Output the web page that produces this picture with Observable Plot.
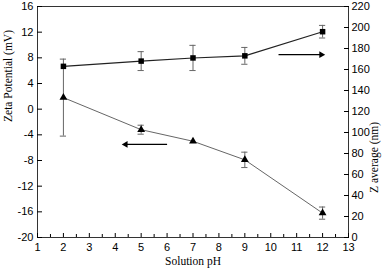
<!DOCTYPE html>
<html><head><meta charset="utf-8">
<script src="https://cdn.jsdelivr.net/npm/d3@7"></script>
<script src="https://cdn.jsdelivr.net/npm/@observablehq/plot@0.6"></script>
<style>body{margin:0;background:#fff} svg{display:block}</style>
</head><body><div id="chart"></div>
<script>
// Data
const pH = [2, 5, 7, 9, 12];
const zAverage = [163, 168, 171, 173, 196];      // nm (right axis)
const zAverageErr = [0, 9, 12, 8, 6];
const zeta = [1.8, -3.2, -5.0, -7.9, -16.2];     // mV (left axis)
const zetaErr = [6, 0.7, 0, 1.2, 0.95];
const xTicks = d3.range(1, 14);
const xMinorTicks = d3.range(1.5, 13, 1);
const zetaTicks = d3.range(-20, 17, 4);
const nmTicks = d3.range(0, 221, 20);
// annotation arrows (pH start, pH end, zeta level)
const arrowStart = [10.3, 6.0];
const arrowEnd = [11.95, 4.4];
const arrowLevel = [8.5, -5.5];

// right axis (0..220 nm) mapped onto the left scale (-20..16 mV)
const nmToZ = nm => nm * 36 / 220 - 20;

const sq = pH.map((x, i) => ({x, y: nmToZ(zAverage[i]), lo: nmToZ(zAverage[i] - zAverageErr[i]), hi: nmToZ(zAverage[i] + zAverageErr[i]), e: zAverageErr[i]}));
const tr = pH.map((x, i) => ({x, y: zeta[i], lo: zeta[i] - zetaErr[i], hi: zeta[i] + zetaErr[i], e: zetaErr[i]}));
const arrows = arrowStart.map((s, i) => ({x1: s, x2: arrowEnd[i], y: arrowLevel[i], rot: arrowEnd[i] > s ? 90 : -90}));
const errs = [...sq, ...tr].filter(d => d.e > 0);
const caps = errs.flatMap(d => [{x: d.x, y: d.lo}, {x: d.x, y: d.hi}]);

const capW = 0.12;
const chart = Plot.plot({
  width: 391, height: 274,
  marginTop: 6, marginRight: 43, marginBottom: 37, marginLeft: 37,
  style: {fontFamily: "Liberation Sans, Arial, sans-serif", fontSize: "11px", color: "#000", background: "#fff"},
  x: {domain: [1, 13]},
  y: {domain: [-20, 16]},
  marks: [
    Plot.frame({stroke: "#333", strokeWidth: 1}),
    // x axis
    Plot.axisX({ticks: xTicks, tickSize: 0, tickPadding: 6, label: null, tickFormat: d3.format("d")}),
    Plot.axisX({ticks: xTicks, tickSize: -4, text: null, label: null}),
    Plot.axisX({ticks: xMinorTicks, tickSize: -3, text: null, label: null}),
    // left axis
    Plot.axisY({anchor: "left", ticks: zetaTicks, tickSize: 0, tickPadding: 4, label: null, tickFormat: d => String(d)}),
    Plot.axisY({anchor: "left", ticks: zetaTicks, tickSize: -5, text: null, label: null}),
    // right axis
    Plot.axisY({anchor: "right", ticks: nmTicks.map(nmToZ), tickSize: 0, tickPadding: 3, label: null,
      tickFormat: d => String(Math.round((d + 20) * 220 / 36))}),
    Plot.axisY({anchor: "right", ticks: nmTicks.map(nmToZ), tickSize: -5, text: null, label: null}),
    // error bars
    Plot.ruleX(errs, {x: "x", y1: "lo", y2: "hi", stroke: "#666", strokeWidth: 1}),
    Plot.ruleY(caps, {y: "y", x1: d => d.x - capW, x2: d => d.x + capW, stroke: "#666", strokeWidth: 1}),
    // series
    Plot.line(sq, {x: "x", y: "y", stroke: "#222", strokeWidth: 1.1}),
    Plot.line(tr, {x: "x", y: "y", stroke: "#666", strokeWidth: 1}),
    Plot.dot(sq, {x: "x", y: "y", symbol: "square", r: 3.1, fill: "#000", stroke: null}),
    Plot.dot(tr, {x: "x", y: "y", symbol: "triangle", r: 2.9, fill: "#000", stroke: null}),
    // arrows
    Plot.link(arrows, {x1: "x1", x2: "x2", y1: "y", y2: "y", stroke: "#000", strokeWidth: 1.2}),
    Plot.dot(arrows, {x: "x2", y: "y", symbol: "triangle", r: 2.5, rotate: "rot", fill: "#000", stroke: null}),
    // axis titles
    Plot.text(["Solution pH"], {frameAnchor: "bottom", dy: 27, text: d => d, fontFamily: "Liberation Serif, Times New Roman, serif", fontSize: 11.5, fill: "#000"}),
    Plot.text(["Zeta Potential (mV)"], {frameAnchor: "left", dx: -29, rotate: -90, text: d => d, fontFamily: "Liberation Serif, Times New Roman, serif", fontSize: 11.5, fill: "#000"}),
    Plot.text(["Z average (nm)"], {frameAnchor: "right", dx: 26, rotate: -90, text: d => d, fontFamily: "Liberation Serif, Times New Roman, serif", fontSize: 11.5, fill: "#000"})
  ]
});
document.getElementById("chart").append(chart);
</script>
</body></html>
